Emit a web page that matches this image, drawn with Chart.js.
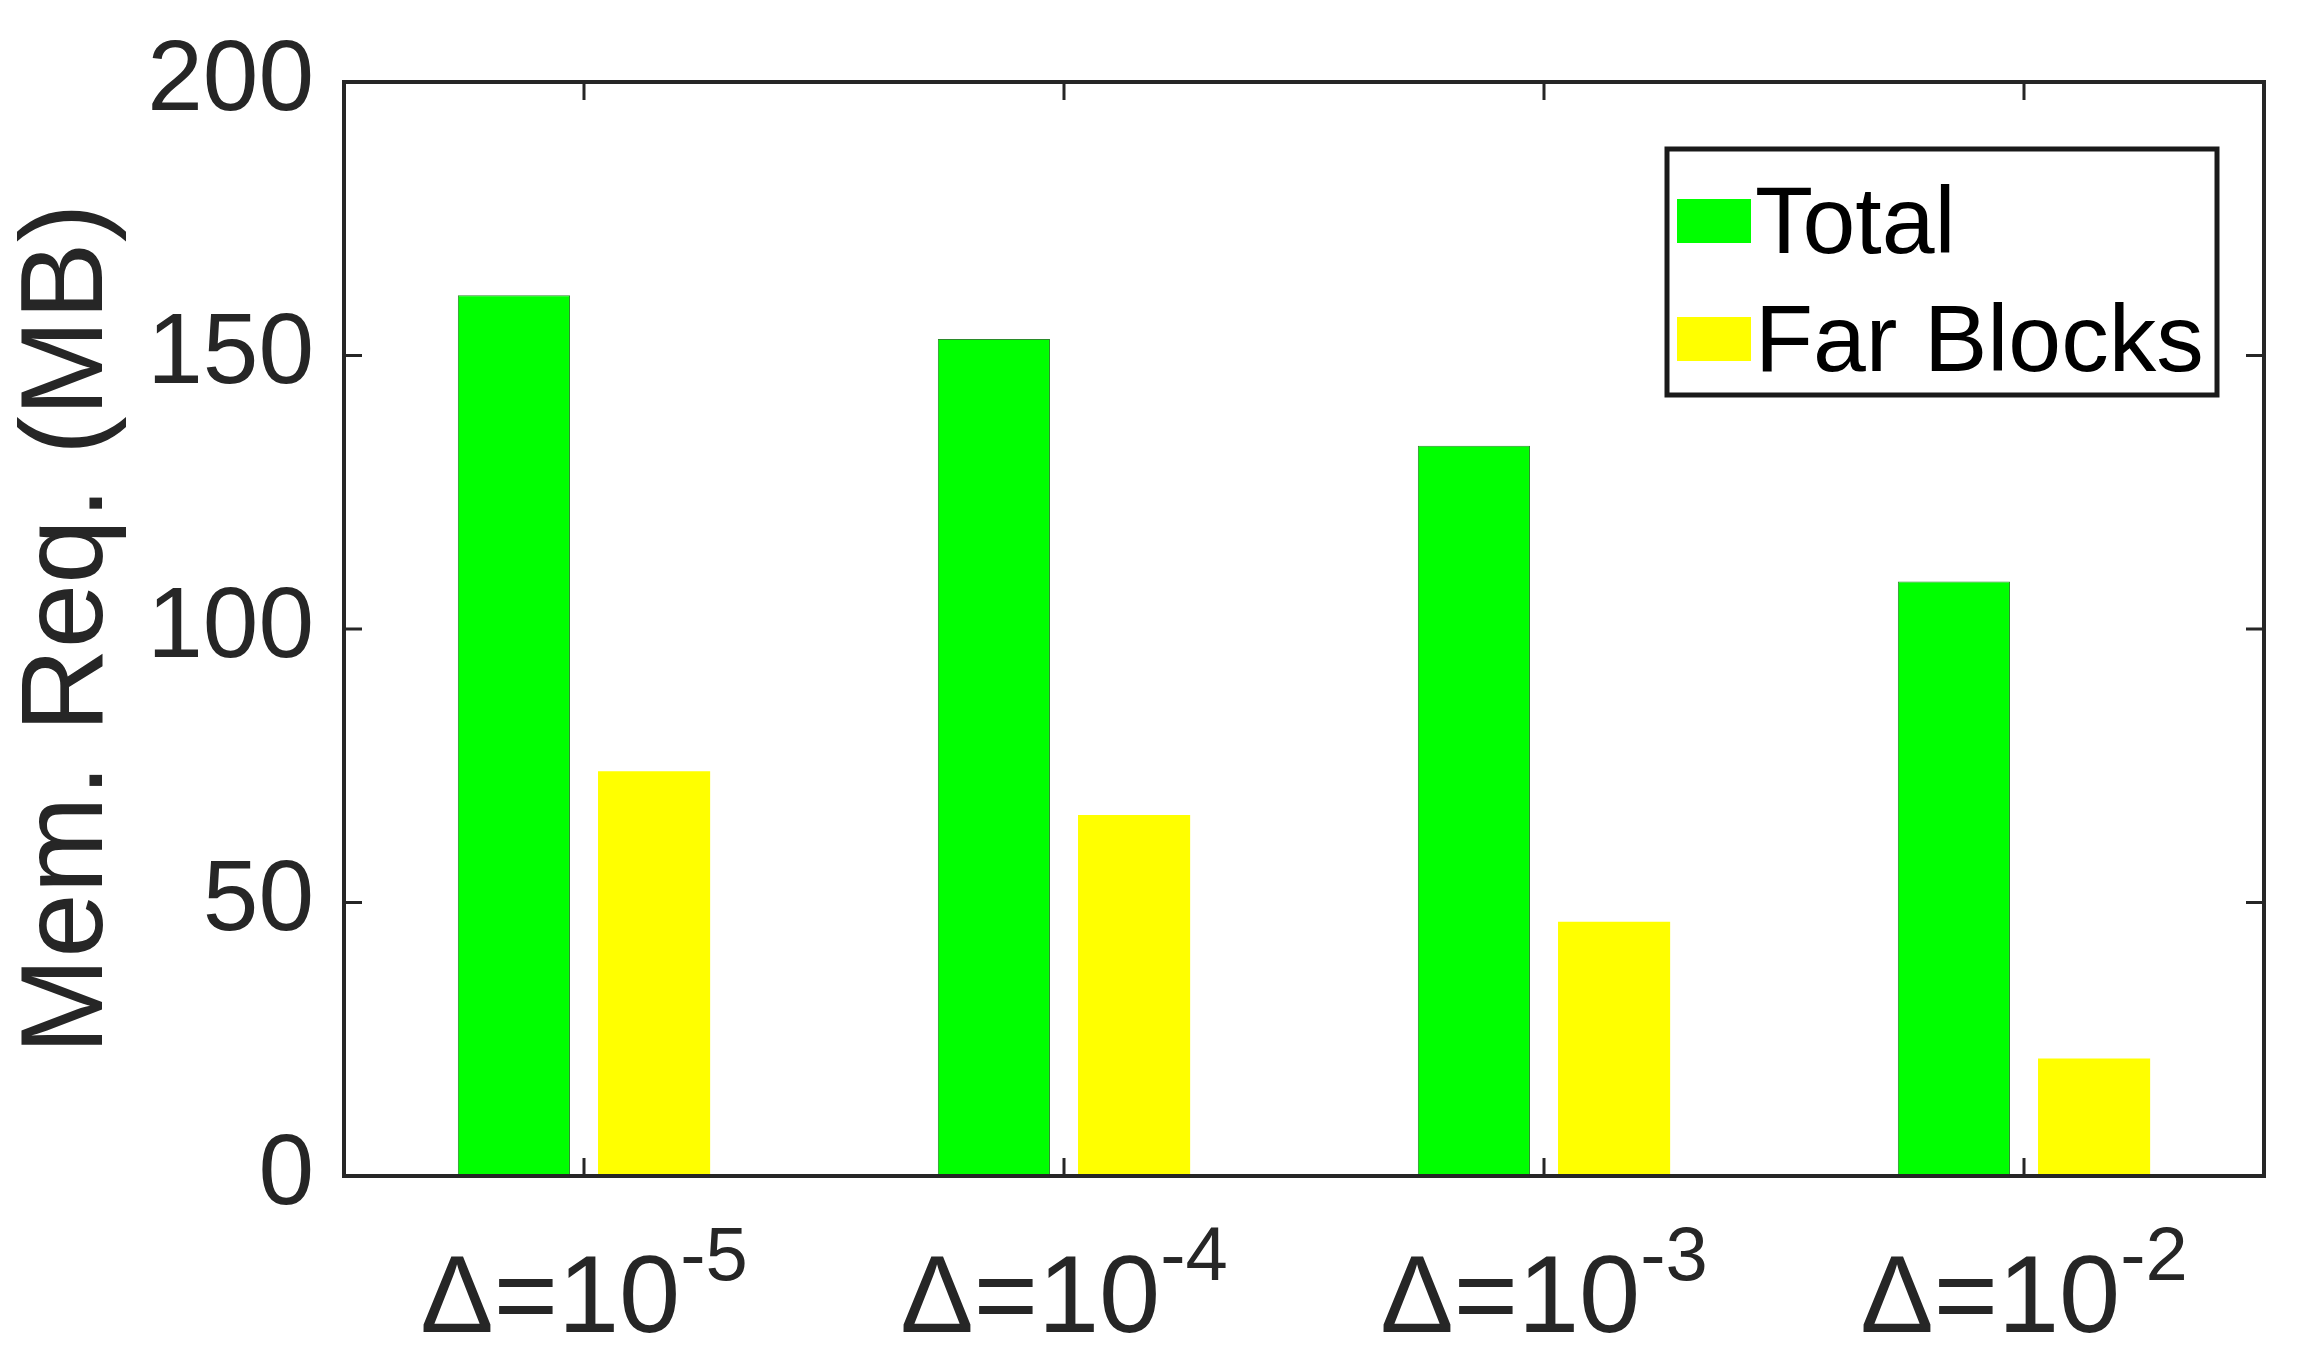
<!DOCTYPE html>
<html><head><meta charset="utf-8">
<script src="https://cdn.jsdelivr.net/npm/chart.js@4"></script>
<style>html,body{margin:0;padding:0;background:#fff}#w{width:2313px;height:1360px}</style>
</head><body><div id="w"><canvas id="c"></canvas></div>
<script>
const categories = ["Δ=10^-5","Δ=10^-4","Δ=10^-3","Δ=10^-2"];
const totalValues = [161, 153, 133.5, 108.7];
const farValues = [74, 66, 46.5, 21.5];
const seriesLabels = ["Total","Far Blocks"];
const yTicks = [0,50,100,150,200];
const FONT = "Arial, 'Liberation Sans', sans-serif";

const frame = {
  id:'frame',
  afterDraw(chart){
    const ctx=chart.ctx, a=chart.chartArea, x=chart.scales.x, y=chart.scales.y;
    ctx.save();
    ctx.strokeStyle='#262626'; ctx.lineWidth=4;
    ctx.strokeRect(a.left,a.top,a.right-a.left,a.bottom-a.top);
    ctx.lineWidth=3;
    const tl=18;
    categories.forEach((c,i)=>{const px=x.getPixelForValue(i);
      ctx.beginPath();ctx.moveTo(px,a.bottom);ctx.lineTo(px,a.bottom-tl);
      ctx.moveTo(px,a.top);ctx.lineTo(px,a.top+tl);ctx.stroke();
      // label with superscript
      const [base,exp]=c.split('^');
      ctx.fillStyle='#262626';ctx.textBaseline='alphabetic';
      ctx.font='110px '+FONT; const bw=ctx.measureText(base).width;
      ctx.font='76px '+FONT; const ew=ctx.measureText(exp).width;
      const sx=px-(bw+ew)/2, by=1332;
      ctx.font='110px '+FONT; ctx.fillText(base,sx,by);
      ctx.font='76px '+FONT; ctx.fillText(exp,sx+bw,by-52);
    });
    yTicks.forEach(v=>{const py=y.getPixelForValue(v);
      ctx.beginPath();ctx.moveTo(a.left,py);ctx.lineTo(a.left+tl,py);
      ctx.moveTo(a.right,py);ctx.lineTo(a.right-tl,py);ctx.stroke();});
    // legend
    const lx=1667, ly=149, lw=550, lh=246;
    ctx.fillStyle='#fff';ctx.fillRect(lx,ly,lw,lh);
    ctx.lineWidth=5;ctx.strokeStyle='#1a1a1a';ctx.strokeRect(lx,ly,lw,lh);
    ctx.font='95px '+FONT;ctx.textBaseline='middle';
    chart.data.datasets.forEach((d,i)=>{
      const cy=ly+72+i*118;
      ctx.fillStyle=d.backgroundColor;ctx.fillRect(lx+10,cy-22,74,44);
      ctx.fillStyle='#000';ctx.fillText(d.label,lx+88,cy+6);
    });
    ctx.restore();
  }
};

new Chart(document.getElementById('c'),{
  type:'bar',
  data:{labels:categories,datasets:[
    {label:seriesLabels[0],data:totalValues,backgroundColor:'#00ff00',borderColor:'#2a8a2a',borderWidth:1},
    {label:seriesLabels[1],data:farValues,backgroundColor:'#ffff00',borderWidth:0}
  ]},
  options:{
    responsive:true,maintainAspectRatio:false,devicePixelRatio:1,animation:false,
    layout:{padding:{top:37,right:49,left:0,bottom:0}},
    categoryPercentage:0.584,barPercentage:0.8,
    plugins:{legend:{display:false},tooltip:{enabled:false}},
    scales:{
      x:{grid:{display:false},border:{display:false},
        ticks:{display:false},
        afterFit(s){s.height=184;}},
      y:{min:0,max:200,grid:{display:false},border:{display:false},
        afterBuildTicks(s){s.ticks=yTicks.map(v=>({value:v}));},
        ticks:{color:'#262626',font:{size:100,family:FONT},padding:22},
        title:{display:true,text:'Mem. Req. (MB)',color:'#262626',font:{size:116,family:FONT},padding:0},
        afterFit(s){s.width=344;}}
    }
  },
  plugins:[frame]
});
</script></body></html>
